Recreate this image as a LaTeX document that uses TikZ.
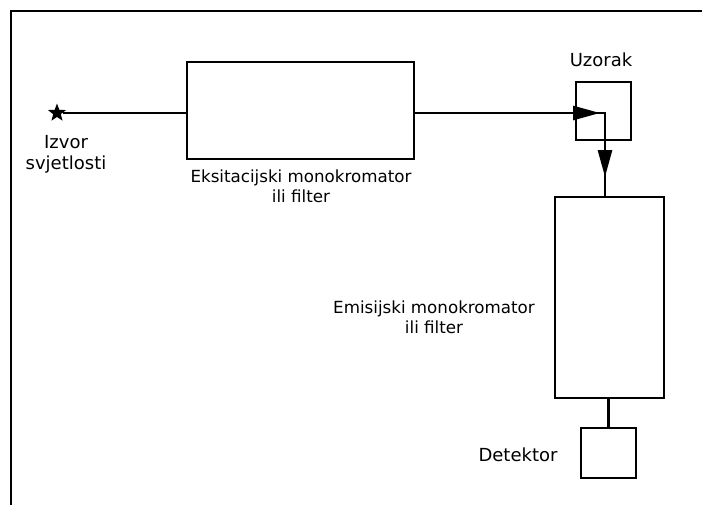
\documentclass[tikz,border=0pt]{standalone}
\usepackage{fontspec}
\setmainfont{DejaVu Sans}
\usetikzlibrary{arrows.meta,positioning,shapes.geometric}

\begin{document}
\begin{tikzpicture}[x=1pt,y=-1pt,
  box/.style={draw,line width=2.8pt,inner sep=0pt},
  conn/.style={line width=2.8pt},
  tip/.style={-{Triangle[length=27pt,width=14pt]}},
  big/.style={font=\fontsize{18}{21}\selectfont,align=center,inner sep=0pt},
  small/.style={font=\fontsize{16.7}{20}\selectfont,align=center,inner sep=0pt}]
  \useasboundingbox (0,0) rectangle (702,504);
  \clip (0,0) rectangle (702,504);
  \draw[line width=2pt] (11,11) rectangle (730,540);

  \node[star,star points=5,star point ratio=2.4,fill,inner sep=0pt,minimum size=19pt] (src) at (57,113) {};
  \node[box,minimum width=227pt,minimum height=97pt] (exc) at (300.5,110.5) {};
  \node[box,minimum width=55pt,minimum height=58pt] (smp) at (603.5,111) {};
  \node[box,minimum width=109pt,minimum height=201pt] (emi) at (609.5,297.5) {};
  \node[box,minimum width=55pt,minimum height=50pt] (det) at (608.5,453) {};

  \coordinate (corner) at (605,113);
  \coordinate (tipA) at (600,113);
  \coordinate (tipB) at (605,177);

  \draw[conn] (src) -- (src -| exc.west);
  \draw[conn] (corner -| exc.east) -- (corner) -- (corner |- emi.north);
  \draw[conn,tip] (corner -| exc.east) -- (tipA);
  \draw[conn,tip] (corner) -- (tipB);
  \draw[conn] (det.north) -- (det.north |- emi.south);

  \node[big] (srclbl) at (66,154) {Izvor\\svjetlosti};
  \node[small] (exclbl) at (301,186) {Eksitacijski monokromator\\ili filter};
  \node[big] (smplbl) at (601,60) {Uzorak};
  \node[small] (emilbl) at (434,317) {Emisijski monokromator\\ili filter};
  \node[big] (detlbl) at (518,455) {Detektor};
\end{tikzpicture}
\end{document}
